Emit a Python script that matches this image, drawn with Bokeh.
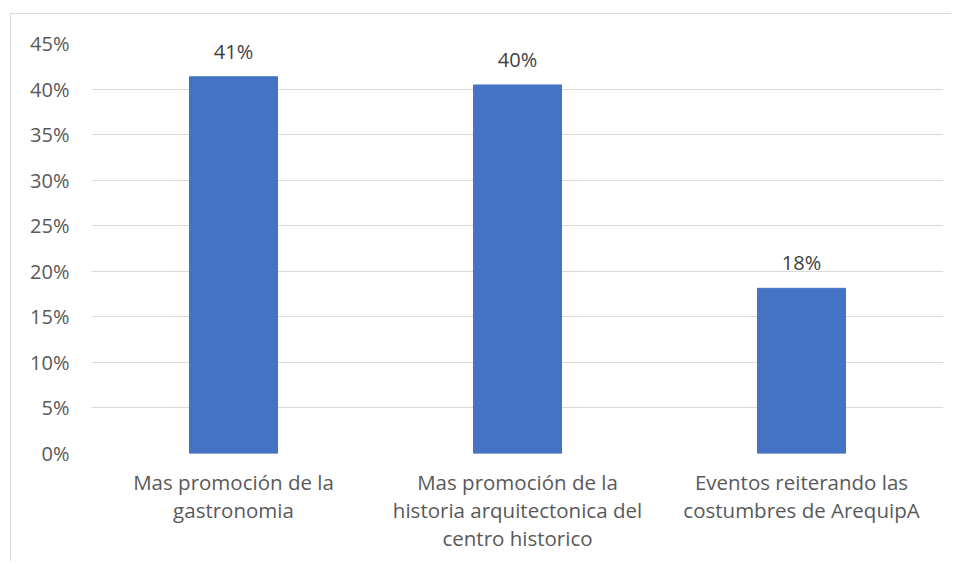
from bokeh.plotting import figure
from bokeh.models import ColumnDataSource, LabelSet, NumeralTickFormatter, FixedTicker, Range1d
from bokeh.core.properties import value
from bokeh.embed import file_html
from bokeh.resources import INLINE

categories = ["Mas promoción de la\ngastronomia",
              "Mas promoción de la\nhistoria arquitectonica del\ncentro historico",
              "Eventos reiterando las\ncostumbres de ArequipA"]
values = [0.4135, 0.4045, 0.1813]
labels = ["41%", "40%", "18%"]
y_ticks = [0.0, 0.05, 0.10, 0.15, 0.20, 0.25, 0.30, 0.35, 0.40, 0.45]

FONT = "Open Sans"
TEXT_COLOR = "#595959"
FS = "20px"

src = ColumnDataSource(dict(cat=categories, val=values, lab=labels))

p = figure(x_range=categories, width=941, height=548,
           output_backend="svg", toolbar_location=None,
           min_border_left=80, min_border_right=9,
           min_border_top=29, min_border_bottom=109)
p.margin = (13, 0, 0, 10)
p.styles = {"border-left": "1px solid #d9d9d9", "border-top": "1px solid #d9d9d9"}
p.y_range = Range1d(0, 0.45)
p.x_range.range_padding = 0

p.vbar(x="cat", top="val", width=0.31, source=src, color="#4472C4")

p.add_layout(LabelSet(x="cat", y="val", text="lab", source=src,
                      text_align="center", text_baseline="bottom", y_offset=12,
                      text_font=value(FONT), text_font_size=FS, text_color="#404040"))

p.outline_line_color = None
p.xgrid.grid_line_color = None
p.ygrid.grid_line_color = "#d9d9d9"
p.ygrid.grid_line_width = 1

p.yaxis.ticker = FixedTicker(ticks=y_ticks)
p.yaxis.formatter = NumeralTickFormatter(format="0%")
for ax in (p.xaxis[0], p.yaxis[0]):
    ax.axis_line_color = None
    ax.major_tick_line_color = None
    ax.minor_tick_line_color = None
    ax.major_label_text_font = FONT
    ax.major_label_text_font_size = FS
    ax.major_label_text_color = TEXT_COLOR
p.xaxis.major_label_text_font_size = "20.5px"
p.xaxis.major_label_text_line_height = 1.0
p.yaxis.major_label_standoff = 16
p.xaxis.major_label_standoff = 8

open("out.html", "w").write(file_html(p, INLINE))
